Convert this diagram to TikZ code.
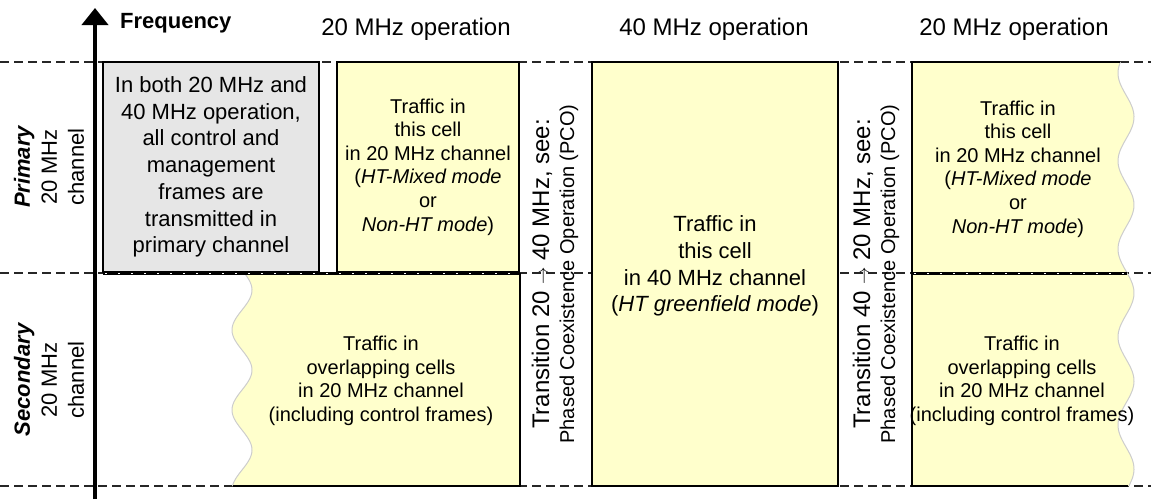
\documentclass[tikz,border=0pt]{standalone}
\usepackage{fontspec}
\setmainfont{Liberation Sans}
\usetikzlibrary{arrows.meta}
\definecolor{cellyellow}{RGB}{255,255,204}
\definecolor{cellgray}{RGB}{230,230,230}
\definecolor{wavegray}{RGB}{205,205,205}
\newcommand{\trarrow}{\raisebox{1.5pt}{\fontsize{18}{18}\selectfont$\rightarrow$}}
\begin{document}
\begin{tikzpicture}[x=1pt,y=-1pt,
  gridline/.style={line width=1.5pt, dash pattern=on 9pt off 5pt, black!85},
  boxedge/.style={line width=2pt, black},
  midedge/.style={line width=3pt, black},
  middots/.style={line width=1pt, white, dash pattern=on 2pt off 11pt},
  wave/.style={line width=1pt, wavegray},
  bodytext/.style={align=center, font=\fontsize{22}{26.7}\selectfont, inner sep=0pt},
  celltext/.style={align=center, font=\fontsize{20}{23.6}\selectfont, inner sep=0pt},
  graybox/.style={draw=black, line width=2pt, fill=cellgray, align=center, font=\fontsize{22}{26.7}\selectfont, inner sep=0pt},
  yellowbox/.style={draw=black, line width=2pt, fill=cellyellow, align=center, inner sep=0pt},
  head/.style={font=\fontsize{24}{28}\selectfont, inner sep=0pt},
  sidelabel/.style={rotate=90, align=center, font=\fontsize{22}{27}\selectfont, inner sep=0pt},
  transition/.style={rotate=90, align=center, font=\fontsize{20}{25}\selectfont, inner sep=0pt},
  axis/.style={line width=4pt, -{Triangle[width=26pt,length=17pt]}}
]
\useasboundingbox (0,0) rectangle (1151,501);

% horizontal dashed channel borders
\draw[gridline] (0,62) -- (1151,62);
\draw[gridline] (0,273) -- (1151,273);
\draw[gridline] (0,486) -- (1151,486);

% header labels
\node[head] (op1) at (416,29) {20 MHz operation};
\node[head] (op2) at (714,29) {40 MHz operation};
\node[head] (op3) at (1014,29) {20 MHz operation};
\node[anchor=west, inner sep=0pt, font=\fontsize{22}{26}\selectfont\bfseries] (freq) at (120,23) {Frequency};

% side labels
\node[sidelabel] (prim) at (49,167) {{\bfseries\itshape Primary}\\20 MHz\\channel};
\node[sidelabel] (sec) at (49,380) {{\bfseries\itshape Secondary}\\20 MHz\\channel};

% gray control box
\node[graybox, minimum width=216pt, minimum height=210pt] (ctrl) at (211,167)
  {In both 20 MHz and\\40 MHz operation,\\all control and\\management\\frames are\\transmitted in\\primary channel};

% 20 MHz primary box (left)
\node[yellowbox, minimum width=182pt, minimum height=210pt, font=\fontsize{20}{23.6}\selectfont] (p20a) at (428,167)
  {Traffic in\\this cell\\in 20 MHz channel\\(\textit{HT-Mixed mode}\\or\\\textit{Non-HT mode})};

% secondary overlapping box (left)
\fill[cellyellow] (520,273) -- plot[domain=273:486, samples=90, smooth] ({242+10*cos((\x-290)*4.5)},\x) -- (520,486) -- cycle;
\draw[wave] plot[domain=273:486, samples=90, smooth] ({242+10*cos((\x-290)*4.5)},\x);
\draw[boxedge] (520,273) -- (520,486) -- (233,486);
\node[celltext] (s20a) at (381,381)
  {Traffic in\\overlapping cells\\in 20 MHz channel\\(including control frames)};

% 40 MHz box
\node[yellowbox, minimum width=246pt, minimum height=424pt] (p40) at (715,274) {};
\node[bodytext] (p40t) at (715,266)
  {Traffic in\\this cell\\in 40 MHz channel\\(\textit{HT greenfield mode})};

% right boxes
\fill[cellyellow] (912,62) -- plot[domain=62:273, samples=90, smooth] ({1126+8*sin((\x-95)*4.0909)},\x) -- (912,273) -- cycle;
\fill[cellyellow] (912,273) -- plot[domain=273:486, samples=90, smooth] ({1126+8*sin((\x-95)*4.0909)},\x) -- (912,486) -- cycle;
\draw[wave] plot[domain=62:486, samples=180, smooth] ({1126+8*sin((\x-95)*4.0909)},\x);
\draw[boxedge] (1120,62) -- (912,62) -- (912,486) -- (1128,486);
\node[celltext] (p20b) at (1018,169)
  {Traffic in\\this cell\\in 20 MHz channel\\(\textit{HT-Mixed mode}\\or\\\textit{Non-HT mode})};
\node[celltext] (s20b) at (1022,381)
  {Traffic in\\overlapping cells\\in 20 MHz channel\\(including control frames)};

% thick middle borders
\draw[midedge] (103,273) -- (520,273);
\draw[middots] (105,273) -- (520,273);
\draw[midedge] (912,273) -- (1127,273);
\draw[middots] (914,273) -- (1127,273);

% transition labels
\node[transition] (tr1) at (555,274)
  {{\fontsize{24}{25}\selectfont Transition 20 \trarrow{} 40 MHz, see:}\\Phased Coexistence Operation (PCO)};
\node[transition] (tr2) at (876,274)
  {{\fontsize{24}{25}\selectfont Transition 40 \trarrow{} 20 MHz, see:}\\Phased Coexistence Operation (PCO)};

% frequency axis
\coordinate (axisfoot) at (95,499);
\coordinate (axistip) at (95,8);
\draw[axis] (axisfoot) -- (axistip);
\end{tikzpicture}
\end{document}
